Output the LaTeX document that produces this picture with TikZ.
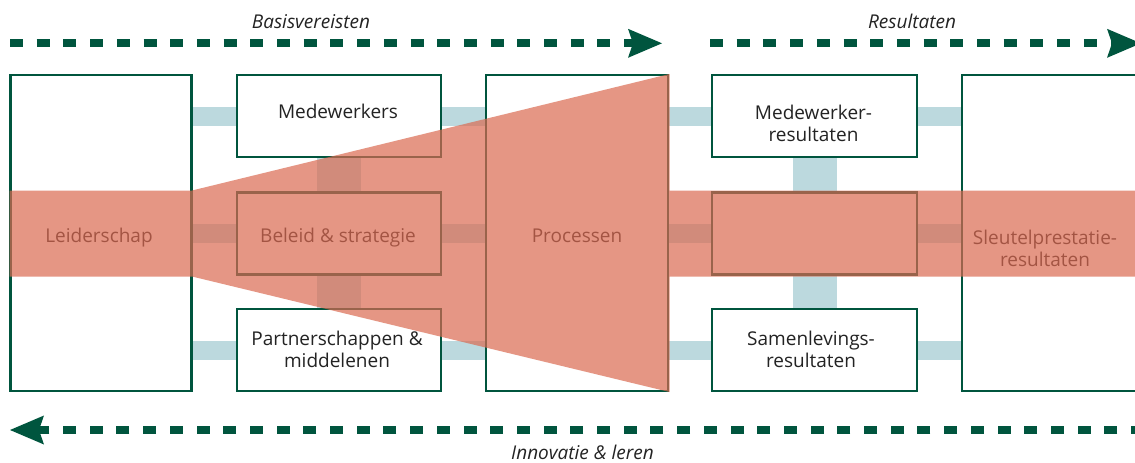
\documentclass[tikz,border=0pt]{standalone}
\usepackage{fontspec}
\setmainfont{Open Sans}
\usetikzlibrary{arrows.meta,backgrounds}

\definecolor{modelgreen}{RGB}{0,85,62}
\definecolor{linkblue}{RGB}{188,217,222}
\definecolor{focusred}{RGB}{218,106,81}
\definecolor{textgrey}{RGB}{35,35,35}

\tikzset{
    box/.style={draw=modelgreen, line width=2.7pt, fill=white, inner sep=0pt},
    link/.style={draw=linkblue, line width=19pt},
    boxtext/.style={text=textgrey, font=\fontsize{19}{22}\selectfont, align=center, anchor=base, inner sep=0pt},
    flowtext/.style={text=textgrey, font=\fontsize{19}{22}\selectfont\itshape, anchor=base, inner sep=0pt},
    dasharrow/.style={draw=modelgreen, line width=8pt, dash pattern=on 13pt off 13.7pt,
        -{Stealth[length=34pt, width=29pt, inset=5pt, line width=0pt]}}
}

\begin{document}
\begin{tikzpicture}[x=1pt, y=-1pt]
            \useasboundingbox (0, 0) rectangle (1135, 463);

            % boxes
            \node[box, minimum width=181pt, minimum height=316pt] (lead) at (101, 233) {};
            \node[box, minimum width=204pt, minimum height=82pt] (medw) at (339, 116) {};
            \node[box, minimum width=204pt, minimum height=82pt] (beleid) at (339, 233.5) {};
            \node[box, minimum width=204pt, minimum height=82pt] (partner) at (339, 350) {};
            \node[box, minimum width=182pt, minimum height=316pt] (proc) at (577, 233) {};
            \node[box, minimum width=205pt, minimum height=82pt] (medwres) at (814.5, 116) {};
            \node[box, minimum width=205pt, minimum height=82pt] (midres) at (814.5, 233.5) {};
            \node[box, minimum width=205pt, minimum height=82pt] (samres) at (814.5, 350) {};
            \node[box, minimum width=182pt, minimum height=316pt] (kpi) at (1053, 233) {};

            % links between the boxes
            \begin{scope}[on background layer]
                \draw[link] (lead.east |- medw.west) -- (medw.west);
                \draw[link] (medw.east) -- (proc.west |- medw.east);
                \draw[link] (proc.east |- medwres.west) -- (medwres.west);
                \draw[link] (medwres.east) -- (kpi.west |- medwres.east);
                \draw[link] (lead.east |- beleid.west) -- (beleid.west);
                \draw[link] (beleid.east) -- (proc.west |- beleid.east);
                \draw[link] (proc.east |- midres.west) -- (midres.west);
                \draw[link] (midres.east) -- (kpi.west |- midres.east);
                \draw[link] (lead.east |- partner.west) -- (partner.west);
                \draw[link] (partner.east) -- (proc.west |- partner.east);
                \draw[link] (proc.east |- samres.west) -- (samres.west);
                \draw[link] (samres.east) -- (kpi.west |- samres.east);
                \draw[link, line width=44pt] (medw.south) -- (beleid.north);
                \draw[link, line width=44pt] (beleid.south) -- (partner.north);
                \draw[link, line width=44pt] (medwres.south) -- (midres.north);
                \draw[link, line width=44pt] (midres.south) -- (samres.north);
            \end{scope}

            % base of a two-line text is its last line
            \node[boxtext] (tlead) at (99, 242) {Leiderschap};
            \node[boxtext] (tmedw) at (338, 118) {Medewerkers};
            \node[boxtext] (tbeleid) at (338, 242) {Beleid \& strategie};
            \node[boxtext] (tpartner) at (337, 367.5) {Partnerschappen \&\\middelenen};
            \node[boxtext] (tproc) at (577, 242) {Processen};
            \node[boxtext] (tmedwres) at (813.5, 141) {Medewerker-\\resultaten};
            \node[boxtext] (tsamres) at (811, 367.5) {Samenlevings-\\resultaten};
            \node[boxtext] (tkpi) at (1045, 266) {Sleutelprestatie-\\resultaten};

            % focus band and funnel
            \fill[focusred, opacity=0.7] (9.5, 190.5) -- (192, 190.5) -- (669.5, 74) -- (669.5, 190.5)
                -- (1140, 190.5) -- (1140, 276.5) -- (669.5, 276.5) -- (669.5, 392)
                -- (192, 276.5) -- (9.5, 276.5) -- cycle;

            % flow arrows
            \coordinate (basstart) at (10, 43.3);
            \coordinate (basend) at (662, 43.3);
            \coordinate (resstart) at (710, 43.3);
            \coordinate (resend) at (1141, 43.3);
            \coordinate (innstart) at (1170.7, 430);
            \coordinate (innend) at (10, 430);
            \draw[dasharrow] (basstart) -- (basend);
            \draw[dasharrow] (resstart) -- (resend);
            \draw[dasharrow] (innstart) -- (innend);
            \node[flowtext] (basis) at (311, 28) {Basisvereisten};
            \node[flowtext] (result) at (912, 28) {Resultaten};
            \node[flowtext] (innov) at (582.5, 459) {Innovatie \& leren};
        \end{tikzpicture}
\end{document}
